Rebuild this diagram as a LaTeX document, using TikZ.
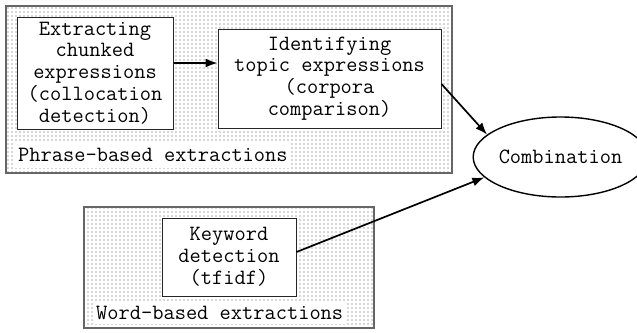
\documentclass[tikz,border=0pt]{standalone}
\usepackage{fontspec}
\usetikzlibrary{shapes.geometric,arrows.meta,patterns}
\pgfdeclarepatternformonly{sparsedots}{\pgfqpoint{-1pt}{-1pt}}{\pgfqpoint{1pt}{1pt}}{\pgfqpoint{4pt}{4pt}}{%
  \pgfpathcircle{\pgfqpoint{0pt}{0pt}}{0.65pt}\pgfusepath{fill}}
\tikzset{
  txt/.style={font=\ttfamily\fontsize{21.8}{21.8}\selectfont},
  group/.style={draw=black!60, line width=1.3pt, pattern=sparsedots, pattern color=black!70, inner sep=0pt},
  stepbox/.style={txt, draw=black!85, line width=1pt, fill=white, align=center, inner sep=0pt},
  grouplabel/.style={txt, fill=white, inner sep=3pt, anchor=west},
  conn/.style={line width=1.7pt, -{Latex[length=12pt,width=9pt]}}
}
\begin{document}
\begin{tikzpicture}[x=1pt,y=-1pt]
\useasboundingbox (0,0) rectangle (637,332);
% groups
\node[group, minimum width=446pt, minimum height=167pt] (g1) at (229,89.5) {};
\node[group, minimum width=290pt, minimum height=121pt] (g2) at (229,267.5) {};
% steps
\node[stepbox, minimum width=156pt, minimum height=112pt] (ex) at (95,73)
  {Extracting\\chunked\\expressions\\(collocation\\detection)};
\node[stepbox, minimum width=223pt, minimum height=99pt] (id) at (329.5,78.5)
  {Identifying\\topic expressions\\(corpora\\comparison)};
\node[stepbox, minimum width=134pt, minimum height=78pt] (kw) at (229,257)
  {Keyword\\detection\\(tfidf)};
\node[txt, draw, line width=1.4pt, ellipse, minimum width=151pt, minimum height=80pt, inner sep=0pt] (comb) at (560.5,157) {Combination};
% labels
\node[grouplabel, minimum height=25pt] (l1) at (15,155) {Phrase-based extractions};
\node[grouplabel, minimum height=22pt] (l2) at (93,313) {Word-based extractions};
% connectors
\draw[conn] ([yshift=10pt]ex.east) coordinate (a1) -- (a1 -| id.west);
\draw[conn] ([yshift=-5.5pt]id.east) -- (comb.163);
\draw[conn] ([yshift=5pt]kw.east) -- (comb.195);
\end{tikzpicture}
\end{document}
